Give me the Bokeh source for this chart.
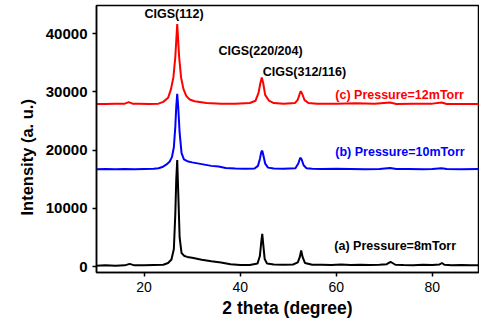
from bokeh.plotting import figure
from bokeh.models import Range1d, FixedTicker, Label, Title
from bokeh.embed import file_html
from bokeh.resources import INLINE

# ---- data ----
x_a = [10, 12, 14, 16, 17, 18, 20, 22, 24, 25, 25.7, 26.2, 26.5, 26.7, 26.9, 27.1, 27.4, 27.8, 28.4, 29, 30, 32, 34, 36,
       38, 40, 42, 43.6, 44.1, 44.4, 44.6, 44.8, 45.1, 45.6, 47, 49, 51, 52.0, 52.4, 52.7, 53.0, 53.5, 55, 57, 59, 61,
       63, 65, 67, 69, 70.5, 71.3, 71.7, 72.3, 74, 76, 78, 80, 81.5, 82.0, 82.5, 84, 86, 88, 90]
y_a = [150, 200, 150, 200, 450, 200, 200, 250, 300, 600, 1200, 3000, 9000, 15000, 18300, 13000, 5000, 2300, 1800, 1650,
       1500, 1150, 900, 700, 400, 250, 250, 500, 1800, 4300, 5600, 3800, 1300, 500, 350, 300, 350, 700, 1600, 2750, 1600,
       600, 300, 300, 250, 350, 250, 300, 250, 300, 400, 800, 600, 300, 250, 200, 300, 250, 350, 600, 300, 200, 250, 200,
       200]

x_b = [10, 12, 14, 16, 18, 20, 22, 23, 23.8, 24.6, 25.3, 25.8, 26.2, 26.5, 26.7, 26.9, 27.1, 27.4, 27.8, 28.3, 29, 30,
       32, 34, 35.5, 37, 39, 41, 43, 43.7, 44.1, 44.4, 44.6, 44.8, 45.2, 45.8, 47, 49, 51.5, 52.1, 52.5, 52.8, 53.2, 53.8,
       55, 57, 60, 63, 66, 69, 71.2, 72.5, 75, 78, 80, 81.9, 83, 86, 90]
y_b = [16700, 16750, 16700, 16750, 16700, 16750, 16800, 16900, 17100, 17500, 18000, 18800, 20500, 24000, 27500, 29700,
       27500, 23000, 19500, 18400, 18100, 17900, 17600, 17300, 17200, 16950, 16850, 16800, 16850, 17300, 18500, 19700,
       19900, 19200, 17700, 17000, 16850, 16800, 16900, 17700, 18700, 18400, 17400, 16900, 16800, 16750, 16800, 16750,
       16700, 16750, 16950, 16750, 16750, 16700, 16750, 16900, 16750, 16700, 16750]

x_c = [10, 12, 14, 16, 16.8, 17.6, 19, 21, 23, 24, 25, 25.6, 26.1, 26.5, 26.9, 27.3, 27.7, 28.2, 28.8, 29.5, 30.5, 33,
       36, 39, 42, 43.2, 43.8, 44.2, 44.5, 44.8, 45.2, 46, 47, 49, 51.4, 52.0, 52.4, 52.6, 52.9, 53.4, 54.2, 56, 60, 64,
       68, 71.2, 72.5, 76, 80, 81.9, 83, 86, 90]
y_c = [27950, 27950, 28000, 28000, 28250, 28000, 28000, 27950, 28000, 28300, 29000, 30500, 32500, 36000, 41700, 36000,
       32500, 30500, 29300, 28700, 28400, 28100, 28000, 28000, 28100, 28500, 29800, 31500, 32500, 31500, 29500, 28500,
       28100, 28000, 28100, 28700, 29700, 30150, 29700, 28600, 28100, 28000, 28000, 28050, 28000, 28200, 27950, 28000,
       28000, 28200, 27950, 27950, 27950]

x_ticks = [20, 40, 60, 80]
y_ticks = [0, 10000, 20000, 30000, 40000]

peak_labels = ["CIGS(112)", "CIGS(220/204)", "CIGS(312/116)"]
peak_label_x = [20.1, 35.5, 44.7]
peak_label_y = [43450, 37000, 33400]

series_labels = ["(a) Pressure=8mTorr", "(b) Pressure=10mTorr", "(c) Pressure=12mTorr"]
series_label_x = [59.6, 59.8, 59.8]
series_label_y = [3500, 19650, 29550]
colors = ["black", "blue", "red"]

FONT = "Liberation Sans"

p = figure(width=479, height=324, output_backend="svg", toolbar_location=None,
           x_range=Range1d(10.1, 89.6), y_range=Range1d(-1030, 44870),
           min_border_left=96, min_border_right=1, min_border_top=5, min_border_bottom=52)
p.xgrid.visible = False
p.ygrid.visible = False
p.outline_line_color = "black"
p.outline_line_width = 1.5
p.background_fill_color = "white"
p.border_fill_color = "white"

for xs, ys, c in [(x_a, y_a, colors[0]), (x_b, y_b, colors[1]), (x_c, y_c, colors[2])]:
    p.line(xs, ys, line_color=c, line_width=2)

for t, x, y in zip(peak_labels, peak_label_x, peak_label_y):
    p.add_layout(Label(x=x, y=y, text=t, text_font=FONT, text_font_size="12.5px", text_font_style="bold",
                       text_baseline="middle", text_align="left", text_color="black"))

for t, x, y, c in zip(series_labels, series_label_x, series_label_y, colors):
    p.add_layout(Label(x=x, y=y, text=t, text_font=FONT, text_font_size="12.5px", text_font_style="bold",
                       text_baseline="middle", text_align="left", text_color=c))

p.xaxis.ticker = FixedTicker(ticks=x_ticks)
p.yaxis.ticker = FixedTicker(ticks=y_ticks)
for ax in (p.xaxis, p.yaxis):
    ax.axis_line_width = 1.5
    ax.major_tick_line_width = 1.5
    ax.major_tick_out = 4
    ax.major_tick_in = 0
    ax.minor_tick_out = 0
    ax.minor_tick_in = 0
    ax.axis_label_text_font = FONT
    ax.axis_label_text_font_style = "bold"
    ax.major_label_text_font = FONT
    ax.major_label_text_color = "black"
    ax.axis_label_text_color = "black"

p.xaxis.axis_label = "2 theta (degree)"
p.xaxis.axis_label_text_font_size = "17.5px"
p.xaxis.major_label_text_font_size = "14px"
p.xaxis.major_label_text_font_style = "normal"
p.xaxis.axis_label_standoff = 3
p.xaxis.major_label_standoff = 5

p.yaxis.major_label_text_font_size = "15px"
p.yaxis.major_label_text_font_style = "bold"
p.yaxis.major_label_standoff = 5

ytitle = Title(text="Intensity (a. u.)", align="left", offset=57, text_font=FONT,
               text_font_size="16.5px", text_font_style="bold", text_color="black", standoff=14)
p.add_layout(ytitle, "left")

open("out.html", "w").write(file_html(p, INLINE))
